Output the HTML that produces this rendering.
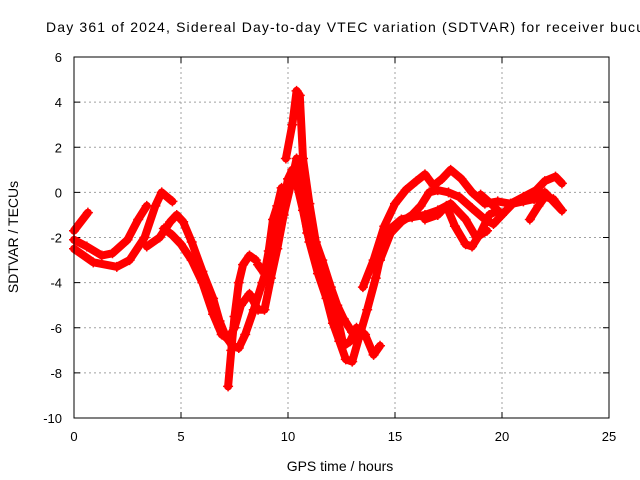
<!DOCTYPE html>
<html><head><meta charset="utf-8"><style>
body{margin:0;background:#fff;}
svg{display:block;font-family:"Liberation Sans",sans-serif;}
</style></head><body>
<svg id="chart" width="640" height="480">
<text x="46" y="32" font-size="14" textLength="598" lengthAdjust="spacing">Day 361 of 2024, Sidereal Day-to-day VTEC variation (SDTVAR) for receiver bucu</text>
<g id="grid"></g>
<g id="ticks"></g>
<g id="series"></g>
<rect x="74" y="57" width="535" height="361" fill="none" stroke="#000" stroke-width="1"/>
<text x="340" y="471" font-size="14" text-anchor="middle">GPS time / hours</text>
<text x="18" y="237" font-size="14" text-anchor="middle" transform="rotate(-90 18 237)">SDTVAR / TECUs</text>
</svg>
<script>
const xTicks=[0,5,10,15,20,25];
const yTicks=[6,4,2,0,-2,-4,-6,-8,-10];
const track1=[[0,-1.7],[0.65,-0.9]];
const track2=[[0,-2.1],[0.6,-2.4],[1.3,-2.8],[1.8,-2.7],[2.5,-2.1],[3.0,-1.2],[3.4,-0.6]];
const track3=[[0,-2.5],[0.9,-3.1],[2.0,-3.3],[2.6,-3.0],[3.3,-2.0],[3.8,-0.6],[4.1,0.0],[4.6,-0.4]];
const track4=[[3.4,-2.4],[4.0,-2.0],[4.5,-1.3],[4.8,-1.0],[5.1,-1.3],[5.5,-2.2],[6.0,-3.5],[6.5,-4.7],[6.8,-5.7],[7.1,-6.4],[7.4,-6.8],[7.7,-6.9],[8.0,-6.3],[8.4,-5.2],[8.8,-4.0],[9.2,-2.8],[9.5,-1.5],[9.8,-0.4],[10.0,0.6],[10.2,1.0],[10.4,0.4],[10.7,-0.8],[11.0,-2.2],[11.4,-3.6],[11.8,-4.7],[12.1,-5.8],[12.4,-6.6],[12.7,-7.4],[13.0,-7.5],[13.3,-6.5],[13.7,-5.2],[14.1,-3.8],[14.4,-2.5],[14.8,-1.6],[15.3,-1.2],[15.8,-1.1],[16.4,-1.0],[17.0,-0.8],[17.6,-0.5],[18.3,-1.2],[18.8,-2.0],[19.3,-1.7]];
const track5=[[4.2,-1.6],[4.6,-1.9],[5.0,-2.3],[5.5,-3.0],[6.0,-4.0],[6.5,-5.4],[6.9,-6.3],[7.2,-6.5],[7.5,-6.0],[7.8,-5.0],[8.2,-4.5],[8.6,-5.2],[8.9,-5.2],[9.2,-3.8],[9.5,-2.5],[9.8,-1.0],[10.1,0.2],[10.4,1.5],[10.6,0.0],[10.9,-1.8],[11.2,-2.5],[11.5,-3.2],[11.9,-4.0],[12.3,-5.5],[12.6,-6.8],[12.9,-6.6],[13.2,-6.0],[13.6,-6.3],[14.0,-7.2],[14.3,-6.8]];
const track6=[[7.2,-8.6],[7.35,-7.0],[7.5,-5.5],[7.7,-4.0],[7.9,-3.2],[8.2,-2.8],[8.5,-3.0]];
const track7=[[9.9,1.5],[10.2,3.0],[10.4,4.5],[10.55,4.3],[10.7,1.5],[11.0,-0.5],[11.3,-2.2],[11.6,-3.0],[12.0,-4.2],[12.3,-5.0],[12.6,-5.6],[13.0,-6.2]];
const track8=[[13.5,-4.2],[14.0,-3.0],[14.5,-1.5],[15.0,-0.5],[15.5,0.1],[16.0,0.5],[16.4,0.8],[16.8,0.3],[17.2,0.6],[17.6,1.0],[18.1,0.6],[18.6,0.0],[19.2,-0.5],[19.8,-0.4],[20.4,-0.5],[21.0,-0.2],[21.6,0.1],[22.0,0.5],[22.5,0.7],[22.8,0.4]];
const track9=[[14.3,-3.0],[14.8,-1.8],[15.3,-1.3],[15.8,-1.0],[16.2,-0.6],[16.6,0.0],[17.0,0.1],[17.5,0.0],[18.0,-0.2],[18.6,-0.7],[19.2,-1.2],[19.6,-1.4],[20.0,-1.0],[20.5,-0.5],[21.0,-0.4],[21.5,-0.3],[22.0,0.0],[22.5,-0.5],[22.8,-0.8]];
const track10=[[16.4,-1.2],[17.0,-1.0],[17.4,-0.6],[17.8,-1.5],[18.3,-2.3],[18.6,-2.4],[19.0,-1.8],[19.4,-1.0],[19.8,-0.8]];
const track11=[[21.3,-1.2],[21.7,-0.6],[22.0,-0.2],[22.4,-0.3],[22.8,-0.8]];
const track12=[[19.0,-0.1],[19.6,-0.6],[20.0,-1.0]];
const track13=[[8.6,-3.2],[8.9,-3.6],[9.1,-2.6],[9.3,-1.2],[9.5,-0.6],[9.7,0.2]];
const tracks=[track1,track2,track3,track4,track5,track6,track7,track8,track9,track10,track11,track12,track13];

const NS='http://www.w3.org/2000/svg';
const X0=74,X1=609,Y0=418,Y1=57;
function sx(t){return X0+(t-0)/(25-0)*(X1-X0);}
function sy(v){return Y0-(v+10)/(16)*(Y0-Y1);}
function mk(tag,attrs,parent){const e=document.createElementNS(NS,tag);for(const k in attrs)e.setAttribute(k,attrs[k]);parent.appendChild(e);return e;}
const grid=document.getElementById('grid'),ticks=document.getElementById('ticks'),series=document.getElementById('series');
xTicks.forEach(t=>{
  const x=sx(t);
  if(t>0&&t<25){const g=mk('line',{x1:x,x2:x,y1:Y1,y2:Y0,stroke:'#a0a0a0','stroke-dasharray':'2,3'},grid);
  
  }
  mk('line',{x1:x,x2:x,y1:Y0,y2:Y0-6,stroke:'#000'},ticks);
  mk('line',{x1:x,x2:x,y1:Y1,y2:Y1+6,stroke:'#000'},ticks);
  const l=mk('text',{x:x,y:Y0+23,'font-size':13,'text-anchor':'middle'},ticks);
  l.textContent=t;
  
  
});
yTicks.forEach(v=>{
  const y=sy(v);
  if(v>-10&&v<6){const g=mk('line',{x1:X0,x2:X1,y1:y,y2:y,stroke:'#a0a0a0','stroke-dasharray':'2,3'},grid);
  
  }
  mk('line',{x1:X0,x2:X0+6,y1:y,y2:y,stroke:'#000'},ticks);
  mk('line',{x1:X1,x2:X1-6,y1:y,y2:y,stroke:'#000'},ticks);
  const l=mk('text',{x:X0-12,y:y+5,'font-size':13,'text-anchor':'end'},ticks);
  l.textContent=v;
  
  
});
tracks.forEach((tr,i)=>{
  const pts=tr.map(p=>sx(p[0]).toFixed(1)+','+sy(p[1]).toFixed(1)).join(' ');
  const pl=mk('polyline',{points:pts,fill:'none',stroke:'#ff0000','stroke-width':8,'stroke-linejoin':'round','stroke-linecap':'round'},series);
  
  
  tr.forEach(p=>{
    const x=sx(p[0]),y=sy(p[1]);
    const m=mk('path',{d:`M${x-5},${y}H${x+5}M${x},${y-5}V${y+5}`,stroke:'#ff0000','stroke-width':1.5},series);
    
    
  });
});
</script>
</body></html>
